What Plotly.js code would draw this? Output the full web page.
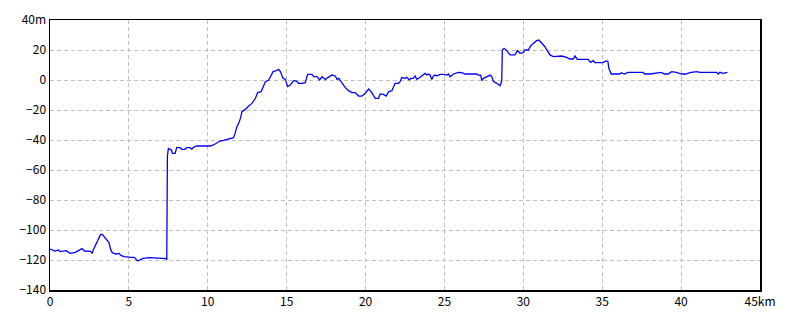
<!DOCTYPE html>
<html><head><meta charset="utf-8">
<script src="https://cdn.plot.ly/plotly-3.0.1.min.js"></script>
<style>html,body{margin:0;padding:0;background:#fff;}</style>
</head><body><div id="chart" style="width:800px;height:320px;"></div>
<script>
const distKm = [0,0.32,0.53,0.64,1.03,1.28,1.6,1.92,2.03,2.18,2.56,2.67,2.74,2.99,3.21,3.31,3.59,3.74,3.85,3.95,4.17,4.38,4.49,4.7,5.13,5.34,5.56,5.77,5.88,6.3,7.16,7.37,7.4,7.42,7.44,7.5,7.6,7.7,7.76,7.93,8.03,8.25,8.35,8.56,8.67,8.88,8.99,9.09,9.3,9.62,9.73,10.15,10.36,10.57,10.78,11.0,11.2,11.42,11.63,11.73,11.84,11.94,12.07,12.17,12.38,12.59,12.8,13.02,13.16,13.38,13.54,13.65,13.86,13.97,14.14,14.28,14.49,14.6,14.77,14.92,15.06,15.23,15.44,15.61,15.76,15.97,16.18,16.33,16.6,16.71,16.92,17.09,17.24,17.45,17.66,17.87,18.08,18.19,18.3,18.5,18.71,18.92,19.14,19.35,19.56,19.77,19.98,20.19,20.4,20.61,20.82,20.93,21.14,21.31,21.46,21.67,21.87,22.08,22.19,22.29,22.5,22.61,22.78,22.86,23.03,23.14,23.25,23.46,23.67,23.77,23.88,23.99,24.09,24.2,24.3,24.41,24.51,24.73,24.94,25.15,25.25,25.36,25.57,25.78,25.89,26.1,26.31,27.05,27.15,27.3,27.37,27.47,27.68,27.9,28.0,28.11,28.32,28.43,28.52,28.63,28.67,28.78,28.95,29.16,29.47,29.62,29.79,30.0,30.1,30.32,30.46,30.63,30.84,30.99,31.16,31.37,31.52,31.69,31.9,32.32,32.43,32.74,32.95,33.16,33.27,33.42,34.11,34.26,34.43,34.54,35.04,35.25,35.36,35.42,35.57,36.1,36.21,36.4,36.63,37.58,37.69,38.0,38.3,38.75,38.95,39.17,39.4,39.7,40.02,40.3,40.55,40.97,41.19,42.25,42.35,42.46,42.67,42.94];
const elevM = [-112.7,-114,-113.3,-114.4,-113.8,-115.6,-114.9,-113.3,-112.4,-114,-114.2,-115.6,-113.3,-107.8,-102.9,-102.9,-106.7,-108.4,-113.3,-115.1,-116,-115.6,-116.9,-117.8,-118.2,-118.2,-120.7,-119.6,-118.9,-118.4,-118.7,-119.1,-120,-88.9,-51,-45.6,-46.2,-46.7,-48.9,-48.9,-45.1,-45.1,-46.2,-46.2,-45.1,-45.1,-46.2,-44.9,-44,-44,-44.4,-44,-43.3,-42.2,-40.7,-40.2,-39.6,-38.9,-38.5,-35.6,-31.1,-29.3,-25.6,-21.1,-19.6,-17.3,-15.6,-12.2,-8.4,-7.8,-4.4,-1.1,0,2.2,5.6,6,7.1,5.6,1.1,0.4,-4.4,-3.3,-0.4,-0.7,-2.2,-2.2,-1.8,3.8,3.8,2.2,2.2,0,2.2,0.4,1.8,3.3,2.7,0.4,1.1,-2.2,-4.9,-7.1,-8.4,-8.4,-10.7,-10.7,-8.9,-6,-8.4,-12.2,-12.2,-9.3,-9.6,-10.7,-7.8,-7.1,-2.2,-2.2,-1.1,1.6,1.1,1.8,0,1.1,1.1,2.7,0.4,1.8,3.3,4.4,3.3,4,3.3,0.4,2.7,3.3,2.7,3.8,3.8,3.3,4,2.2,4,4.4,5.1,4.9,4,4,3.3,3.3,-0.4,1.1,2.2,3.3,2.2,-1.1,-2.2,-3.3,-3.8,-0.7,20,21.1,19.6,16.7,16.7,19.6,17.8,18.2,20,20,22.7,24.4,26.2,26.7,24.9,22.2,19.6,16.7,15.6,15.6,16,15.1,14,14,16,13.8,13.8,11.8,12.9,11.6,11.6,12.7,12.4,7.8,4,4,4.9,4,5.1,5.1,4,4,4.4,5.1,4,4,5.6,5.1,4,4,4.9,5.6,5.1,5.1,4,5.1,4.4,5.1];
const xTickVals = [0,5,10,15,20,25,30,35,40,45];
const xTickText = ['0','5','10','15','20','25','30','35','40','45km'];
const yTickVals = [-140,-120,-100,-80,-60,-40,-20,0,20,40];
const yTickText = ['\u2212140','\u2212120','\u2212100','\u221280','\u221260','\u221240','\u221220','0','20','40m'];

const fontFam = '"Noto Sans CJK JP", "DejaVu Sans", sans-serif';
const axisCommon = {
  showline: true, mirror: true, linecolor: '#000', linewidth: 1.5,
  showgrid: true, gridcolor: '#c0c0c0', gridwidth: 1, griddash: '4px,3px',
  zeroline: false, ticks: '', tickmode: 'array',
  tickfont: {family: fontFam, size: 12, color: '#000'}
};
Plotly.newPlot('chart', [{
  x: distKm, y: elevM, type: 'scatter', mode: 'lines',
  line: {color: '#0000ff', width: 1.3}, hoverinfo: 'skip'
}], {
  width: 800, height: 320,
  margin: {l: 50, r: 40, t: 20, b: 30},
  paper_bgcolor: '#fff', plot_bgcolor: '#fff',
  showlegend: false,
  xaxis: Object.assign({}, axisCommon, {range: [0, 45], tickvals: xTickVals, ticktext: xTickText}),
  yaxis: Object.assign({}, axisCommon, {range: [-140, 40], tickvals: yTickVals, ticktext: yTickText})
}, {staticPlot: true, displayModeBar: false});
</script></body></html>
